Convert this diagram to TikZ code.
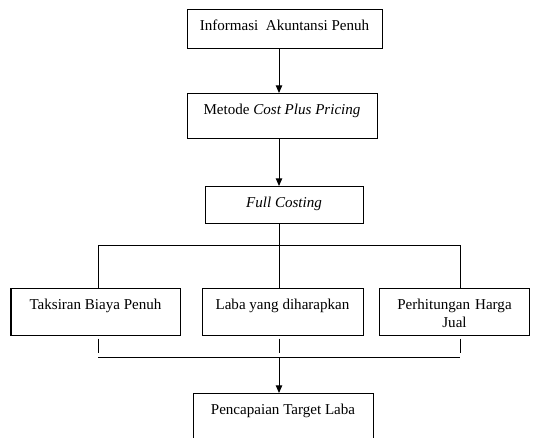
\documentclass[tikz,border=0pt]{standalone}
\usepackage{fontspec}
\setmainfont{Liberation Serif}
\usepackage{tikz}
\usetikzlibrary{arrows, shapes}
\usetikzlibrary{arrows.meta}

\begin{document}
\begin{tikzpicture}[line width=0.8pt]
\useasboundingbox (0,0) rectangle (15.008,-12.236);
%\tikzstyle{panah}=[-{Triangle[width=5pt,length=6pt]}]
\begin{scope}[every node/.style={draw,anchor=north,inner ysep=0pt,text height=0.6cm,font=\fontsize{12}{13.8}\selectfont}]
    \node[minimum width=5.46cm,text depth=0.492cm] (info) at (7.966,-0.252) {Informasi~ Akuntansi Penuh};
    \node[minimum width=5.32cm,text depth=0.66cm] (metode) at (7.896,-2.604) {Metode \textit{Cost Plus Pricing}};
    \node[minimum width=4.424cm,text depth=0.436cm] (full) at (7.952,-5.208) {\textit{Full Costing}};
    \node[minimum width=4.732cm,text depth=0.716cm] (taksiran) at (2.674,-8.064) {Taksiran Biaya Penuh};
    \node[minimum width=4.508cm,text depth=0.716cm] (laba) at (7.91,-8.064) {Laba yang diharapkan};
    \node[text width=3.946cm,align=center,text depth=0.716cm] (harga) at (12.726,-8.064) {Perhitungan Harga\\ Jual};
    \node[minimum width=5.04cm,text depth=1.4cm] (target) at (7.924,-11.004) {Pencapaian Target Laba};
\end{scope}
    \coordinate (t) at (7.812,0);
    \coordinate (p1) at (2.744,-6.86);
    \coordinate (p2) at (7.812,-6.86);
    \coordinate (p3) at (12.88,-6.86);
    \coordinate (q1) at (2.744,-9.996);
    \coordinate (q2) at (7.812,-9.996);
    \coordinate (q3) at (12.88,-9.996);
    \draw[-{Triangle[width=5pt,length=6pt]}] (info.south -| t) -- (metode.north -| t);
    \draw[-{Triangle[width=5pt,length=6pt]}] (metode.south -| t) -- (full.north -| t);
    \draw (full.south -| t) -- (p2);
    \draw (p1) -- (p3);
    \path [-] (p1) edge (taksiran.north -| p1);
    \path [-] (p2) edge (laba.north -| p2);
    \path [-] (p3) edge (harga.north -| p3);
    \draw[shorten <=2pt,shorten >=3pt] (taksiran.south -| q1) -- (q1);
    \draw[shorten <=2pt,shorten >=3pt] (laba.south -| q2) -- (q2);
    \draw[shorten <=2pt,shorten >=3pt] (harga.south -| q3) -- (q3);
    \draw (q1) -- (q3);
    \draw[-{Triangle[width=5pt,length=6pt]}] (q2) -- (target.north -| t);
\end{tikzpicture}
\end{document}
